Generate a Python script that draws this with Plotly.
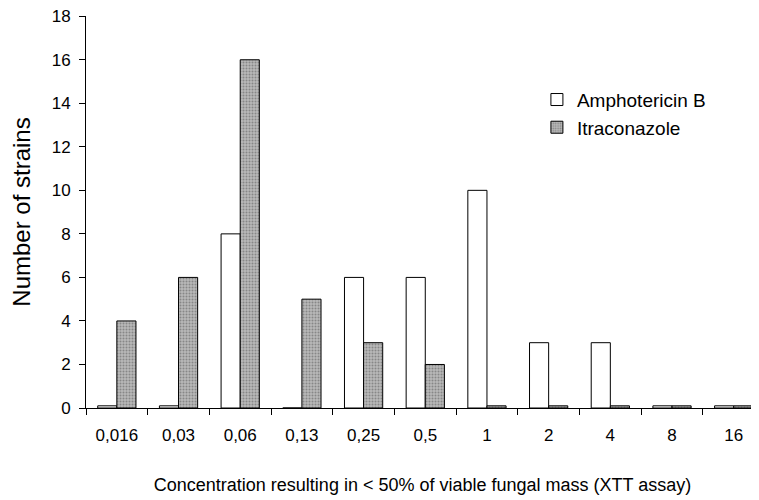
import plotly.graph_objects as go

categories = ["0,016", "0,03", "0,06", "0,13", "0,25", "0,5", "1", "2", "4", "8", "16"]
amphotericin_b = [0.1, 0.1, 8, 0, 6, 6, 10, 3, 3, 0.1, 0.1]
itraconazole = [4, 6, 16, 5, 3, 2, 0.1, 0.1, 0.1, 0.1, 0.1]
y_ticks = [0, 2, 4, 6, 8, 10, 12, 14, 16, 18]

font_family = "Liberation Sans, Arial, sans-serif"

fig = go.Figure()
fig.add_trace(go.Bar(
    x=categories, y=amphotericin_b, name="Amphotericin B",
    marker=dict(color="white", line=dict(color="black", width=1)),
))
fig.add_trace(go.Bar(
    x=categories, y=itraconazole, name="Itraconazole",
    marker=dict(color="#a8a8a8", line=dict(color="black", width=1),
                pattern=dict(shape=".", fgcolor="#555555", bgcolor="#b8b8b8",
                             size=3, solidity=0.35)),
))

fig.update_layout(
    width=759, height=500,
    paper_bgcolor="white", plot_bgcolor="white",
    margin=dict(l=78, r=8, t=8, b=100),
    barmode="group", bargap=0.38, bargroupgap=0,
    font=dict(family=font_family, color="black", size=17),
    showlegend=True,
    legend=dict(x=0.67, y=0.835, xanchor="left", yanchor="top",
                bgcolor="rgba(0,0,0,0)", font=dict(size=19),
                tracegroupgap=0, itemwidth=30),
    xaxis=dict(
        type="category", range=[-0.5, 10.41], automargin=False,
        showline=True, linecolor="black", linewidth=1,
        ticks="outside", tickson="boundaries", ticklen=6, tickcolor="black",
        showgrid=False, zeroline=False,
        tickfont=dict(size=17), ticklabelstandoff=12,
        title=dict(text="Concentration resulting in < 50% of viable fungal mass (XTT assay)",
                   font=dict(size=18), standoff=33),
    ),
    yaxis=dict(
        range=[0, 18.01], tickmode="array", tickvals=y_ticks, automargin=False,
        ticklabeloverflow="allow",
        showline=True, linecolor="black", linewidth=1,
        ticks="outside", ticklen=6, tickcolor="black",
        showgrid=False, zeroline=False,
        tickfont=dict(size=17), ticklabelstandoff=5,
        title=dict(text="Number of strains", font=dict(size=24), standoff=20),
    ),
)

fig.write_html("out.html")
